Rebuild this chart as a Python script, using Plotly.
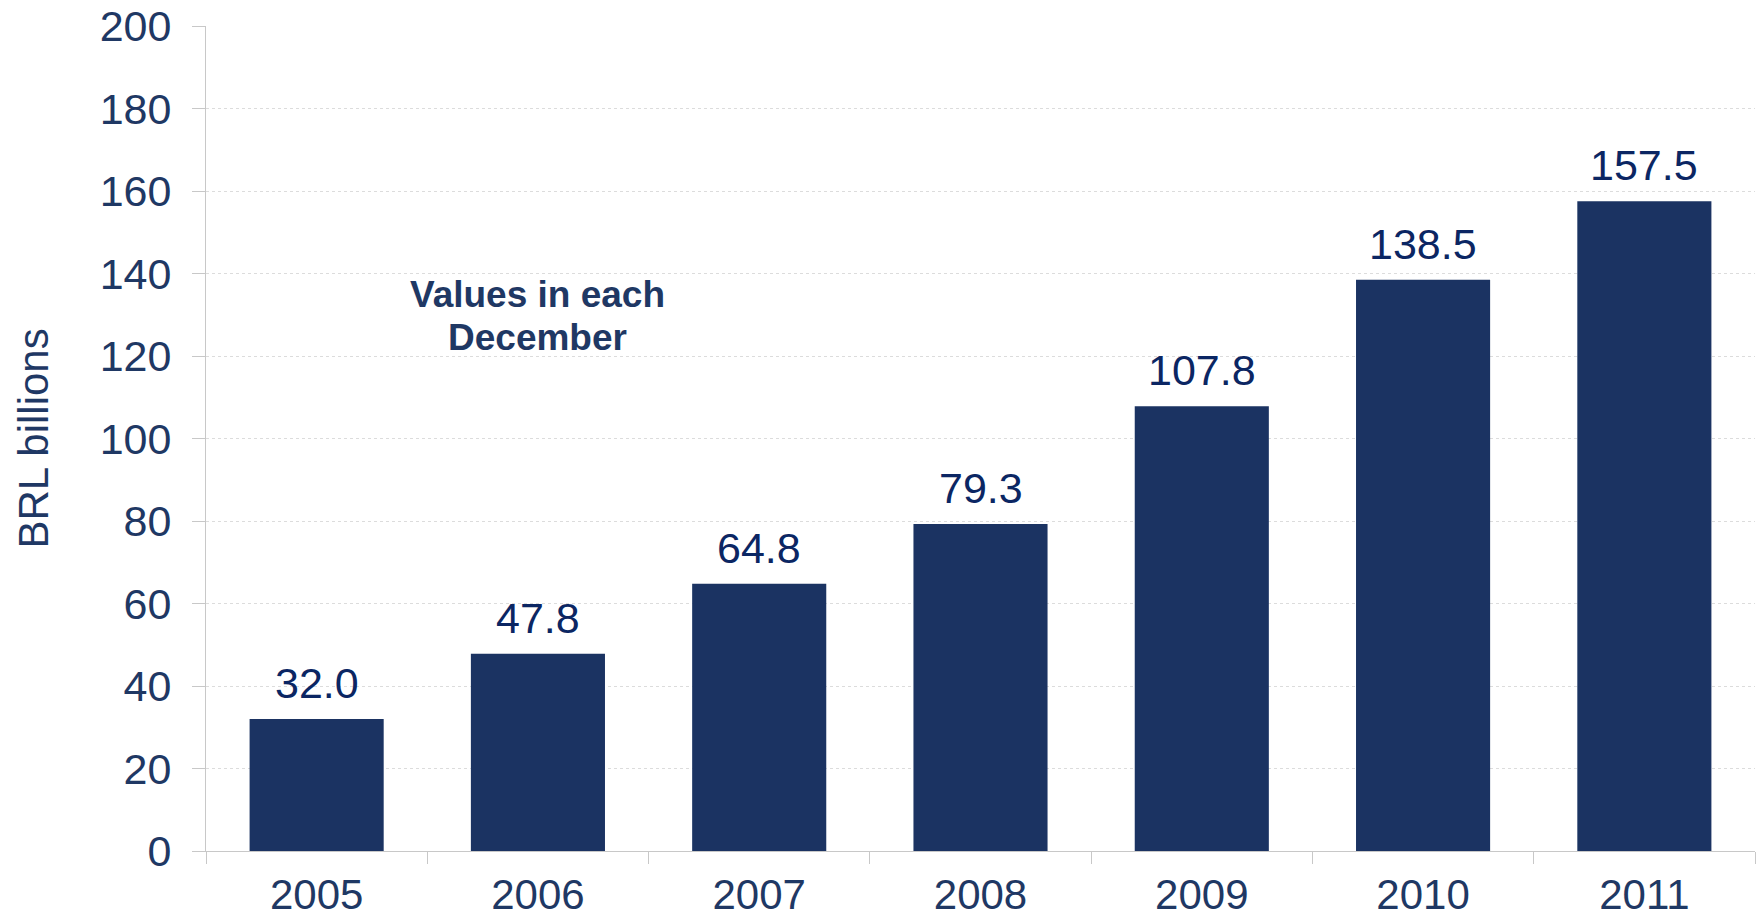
import plotly.graph_objects as go

# December stock, BRL billions
years = ["2005", "2006", "2007", "2008", "2009", "2010", "2011"]
values = [32.0, 47.8, 64.8, 79.3, 107.8, 138.5, 157.5]
y_ticks = [0, 20, 40, 60, 80, 100, 120, 140, 160, 180, 200]
note_lines = ["Values in each", "December"]

NAVY = "#1b3362"
TEXT = "#1f3864"
LABEL = "#0b2663"
AXIS = "#c8c8c8"
FONT = "Liberation Sans, Arial, sans-serif"

fig = go.Figure()
fig.add_trace(go.Bar(
    x=years,
    y=values,
    marker=dict(color=NAVY, line=dict(width=0)),
    width=0.606,
    hoverinfo="skip",
))

# value labels above each bar (x given as category index)
for i, v in enumerate(values):
    fig.add_annotation(
        x=i, y=v, text=f"{v:.1f}", showarrow=False,
        yanchor="bottom", yshift=10,
        font=dict(family=FONT, size=43, color=LABEL),
    )

# two-line note, placed line by line for tighter spacing
for line, yv in zip(note_lines, [135.0, 124.6]):
    fig.add_annotation(
        x=1.0, y=yv, xref="x", yref="y",
        text=f"<b>{line}</b>",
        showarrow=False, xanchor="center", yanchor="middle",
        font=dict(family=FONT, size=37, color=TEXT),
    )

# y-axis title
fig.add_annotation(
    x=0, y=0.5, xref="paper", yref="paper",
    text="BRL billions", textangle=-90,
    showarrow=False, xanchor="center", yanchor="middle",
    xshift=-173,
    font=dict(family=FONT, size=42, color=TEXT),
)

fig.update_layout(
    width=1758, height=921,
    margin=dict(l=206, r=3, t=26, b=70, autoexpand=False),
    paper_bgcolor="white",
    plot_bgcolor="white",
    showlegend=False,
    font=dict(family=FONT, color=TEXT),
)

fig.update_xaxes(
    type="category",
    range=[-0.5, 6.5],
    automargin=False,
    tickfont=dict(family=FONT, size=42, color=TEXT),
    tickangle=0,
    showgrid=False,
    showline=True, linecolor=AXIS, linewidth=1,
    ticks="outside", ticklen=12, tickcolor=AXIS, tickwidth=1,
    tickson="boundaries",
    ticklabelstandoff=7,
)

fig.update_yaxes(
    range=[0, 200],
    automargin=False,
    tickvals=y_ticks,
    tickfont=dict(family=FONT, size=43, color=TEXT),
    showgrid=True, gridcolor="#dcdcdc", gridwidth=1, griddash="dot",
    showline=True, linecolor=AXIS, linewidth=1,
    ticks="outside", ticklen=13, tickcolor=AXIS, tickwidth=1,
    zeroline=False,
    ticklabelstandoff=12,
)

fig.write_html("out.html")
